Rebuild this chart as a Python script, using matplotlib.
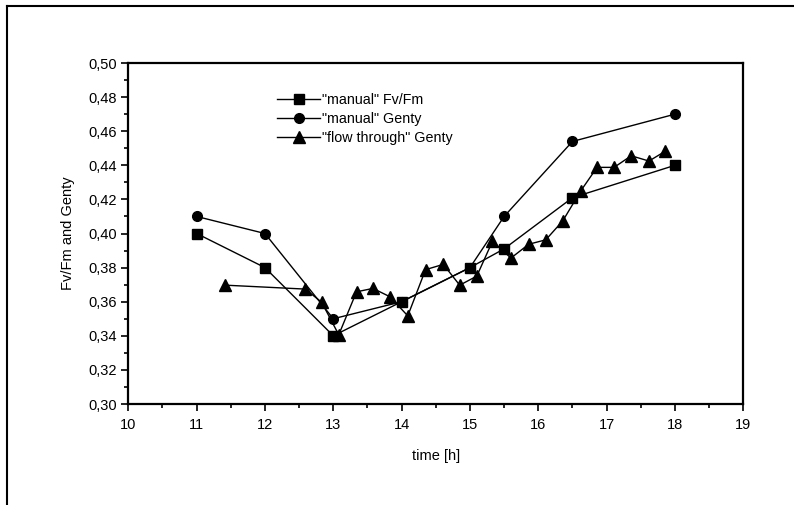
import numpy as np
import matplotlib
matplotlib.use('Agg')
import matplotlib.pyplot as plt
from matplotlib.lines import Line2D
from matplotlib.ticker import MultipleLocator, FuncFormatter

plt.rcParams['font.family'] = ['Liberation Sans', 'DejaVu Sans']

# "manual" Fv/Fm
t_fvfm = [11, 12, 13, 14, 15, 15.5, 16.5, 18]
fvfm = [0.400, 0.380, 0.340, 0.360, 0.380, 0.391, 0.421, 0.440]

# "manual" Genty
t_genty = [11, 12, 13, 14, 15, 15.5, 16.5, 18]
genty = [0.410, 0.400, 0.350, 0.360, 0.380, 0.410, 0.454, 0.470]

# "flow through" Genty
t_flow = [11.42, 12.59, 12.83, 13.08, 13.34, 13.58, 13.83, 14.09, 14.35,
          14.61, 14.85, 15.10, 15.33, 15.60, 15.86, 16.11, 16.36, 16.62,
          16.86, 17.11, 17.36, 17.62, 17.86]
flow = [0.3697, 0.3674, 0.3597, 0.3406, 0.3658, 0.3678, 0.3629, 0.3517,
        0.3788, 0.3819, 0.3697, 0.3750, 0.3955, 0.3856, 0.3937, 0.3963,
        0.4075, 0.4249, 0.4388, 0.4388, 0.4456, 0.4425, 0.4483]

labels = ['"manual" Fv/Fm', '"manual" Genty', '"flow through" Genty']

fig = plt.figure(figsize=(7.94, 5.05), dpi=100)
ax = fig.add_axes([0.1616, 0.2, 0.7745, 0.6752])

ax.plot(t_fvfm, fvfm, color='black', lw=1, marker='s', ms=6.5)
ax.plot(t_genty, genty, color='black', lw=1, marker='o', ms=7)
ax.plot(t_flow, flow, color='black', lw=1, marker='^', ms=8)

ax.set_xlim(10, 19)
ax.set_ylim(0.30, 0.50)
ax.xaxis.set_major_locator(MultipleLocator(1))
ax.xaxis.set_minor_locator(MultipleLocator(0.5))
ax.yaxis.set_major_locator(MultipleLocator(0.02))
ax.yaxis.set_minor_locator(MultipleLocator(0.01))
ax.yaxis.set_major_formatter(FuncFormatter(lambda v, p: ('%.2f' % v).replace('.', ',')))
ax.tick_params(which='major', direction='out', length=5, width=1.2, labelsize=10.5)
ax.tick_params(axis='x', which='major', pad=5)
ax.tick_params(which='minor', direction='out', length=3, width=1.2)
for s in ax.spines.values():
    s.set_linewidth(1.6)

ax.set_xlabel('time [h]', fontsize=10.5, labelpad=12)
ax.set_ylabel('Fv/Fm and Genty', fontsize=10.5, labelpad=9)

handles = [Line2D([], [], color='black', lw=1, marker=m, ms=s)
           for m, s in [('s', 6.5), ('o', 7), ('^', 8)]]
ax.legend(handles, labels, loc='upper left', bbox_to_anchor=(0.233, 0.93),
          frameon=False, fontsize=10.3, handlelength=3.0, handletextpad=0.1,
          labelspacing=0.35, borderaxespad=0)

# scanned page frame
fig.add_artist(Line2D([7/794, 7/794], [0, 1 - 6/505], color='black', lw=1.5,
                      transform=fig.transFigure))
fig.add_artist(Line2D([7/794, 1], [1 - 6/505, 1 - 6/505], color='black', lw=1.5,
                      transform=fig.transFigure))

fig.savefig('out.png', dpi=100)
